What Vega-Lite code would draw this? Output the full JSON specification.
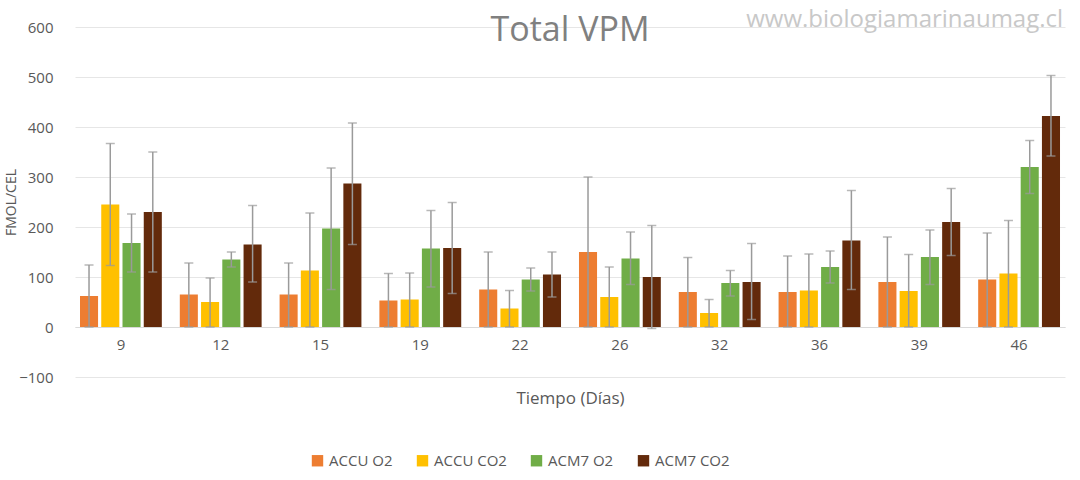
{
  "$schema": "https://vega.github.io/schema/vega-lite/v6.json",
  "width": 990,
  "height": 350,
  "autosize": "none",
  "padding": {"left": 75, "top": 27, "right": 15, "bottom": 103},
  "background": "white",
  "config": {"font": "Open Sans", "view": {"stroke": null}},
  "title": {"text": "Total VPM", "fontSize": 34, "fontWeight": "normal", "color": "#808080", "offset": -40, "anchor": "middle"},
  "data": {"values": [
    {"t": "9", "s": "ACCU O2", "v": 62, "lo": 0, "hi": 124},
    {"t": "9", "s": "ACCU CO2", "v": 245, "lo": 123, "hi": 367},
    {"t": "9", "s": "ACM7 O2", "v": 168, "lo": 110, "hi": 226},
    {"t": "9", "s": "ACM7 CO2", "v": 230, "lo": 110, "hi": 350},
    {"t": "12", "s": "ACCU O2", "v": 65, "lo": 0, "hi": 128},
    {"t": "12", "s": "ACCU CO2", "v": 50, "lo": 0, "hi": 98},
    {"t": "12", "s": "ACM7 O2", "v": 135, "lo": 120, "hi": 150},
    {"t": "12", "s": "ACM7 CO2", "v": 165, "lo": 90, "hi": 243},
    {"t": "15", "s": "ACCU O2", "v": 65, "lo": 0, "hi": 128},
    {"t": "15", "s": "ACCU CO2", "v": 113, "lo": 0, "hi": 228},
    {"t": "15", "s": "ACM7 O2", "v": 197, "lo": 75, "hi": 318},
    {"t": "15", "s": "ACM7 CO2", "v": 287, "lo": 165, "hi": 408},
    {"t": "19", "s": "ACCU O2", "v": 53, "lo": 0, "hi": 107},
    {"t": "19", "s": "ACCU CO2", "v": 55, "lo": 0, "hi": 108},
    {"t": "19", "s": "ACM7 O2", "v": 157, "lo": 80, "hi": 233},
    {"t": "19", "s": "ACM7 CO2", "v": 158, "lo": 67, "hi": 249},
    {"t": "22", "s": "ACCU O2", "v": 75, "lo": 0, "hi": 150},
    {"t": "22", "s": "ACCU CO2", "v": 37, "lo": 0, "hi": 73},
    {"t": "22", "s": "ACM7 O2", "v": 95, "lo": 72, "hi": 118},
    {"t": "22", "s": "ACM7 CO2", "v": 105, "lo": 60, "hi": 150},
    {"t": "26", "s": "ACCU O2", "v": 150, "lo": 0, "hi": 300},
    {"t": "26", "s": "ACCU CO2", "v": 60, "lo": 0, "hi": 120},
    {"t": "26", "s": "ACM7 O2", "v": 137, "lo": 85, "hi": 190},
    {"t": "26", "s": "ACM7 CO2", "v": 100, "lo": -3, "hi": 203},
    {"t": "32", "s": "ACCU O2", "v": 70, "lo": 0, "hi": 139},
    {"t": "32", "s": "ACCU CO2", "v": 28, "lo": 0, "hi": 55},
    {"t": "32", "s": "ACM7 O2", "v": 88, "lo": 62, "hi": 113},
    {"t": "32", "s": "ACM7 CO2", "v": 90, "lo": 15, "hi": 167},
    {"t": "36", "s": "ACCU O2", "v": 70, "lo": 0, "hi": 142},
    {"t": "36", "s": "ACCU CO2", "v": 73, "lo": 0, "hi": 146},
    {"t": "36", "s": "ACM7 O2", "v": 120, "lo": 88, "hi": 152},
    {"t": "36", "s": "ACM7 CO2", "v": 173, "lo": 75, "hi": 273},
    {"t": "39", "s": "ACCU O2", "v": 90, "lo": 0, "hi": 180},
    {"t": "39", "s": "ACCU CO2", "v": 72, "lo": 0, "hi": 145},
    {"t": "39", "s": "ACM7 O2", "v": 140, "lo": 85, "hi": 194},
    {"t": "39", "s": "ACM7 CO2", "v": 210, "lo": 143, "hi": 277},
    {"t": "46", "s": "ACCU O2", "v": 95, "lo": 0, "hi": 188},
    {"t": "46", "s": "ACCU CO2", "v": 107, "lo": 0, "hi": 213},
    {"t": "46", "s": "ACM7 O2", "v": 320, "lo": 267, "hi": 373},
    {"t": "46", "s": "ACM7 CO2", "v": 422, "lo": 342, "hi": 503}
  ]},
  "encoding": {
    "x": {
      "field": "t", "type": "nominal", "sort": null,
      "scale": {"paddingInner": 0.18, "paddingOuter": 0.05},
      "axis": {"title": "Tiempo (Días)", "labelAngle": 0, "offset": -50, "labelFontSize": 15, "labelColor": "#595959", "labelPadding": 10, "titleFontSize": 17, "titleFontWeight": "normal", "titleColor": "#595959", "titlePadding": 38, "ticks": false, "domainColor": "#d9d9d9"}
    },
    "xOffset": {"field": "s", "type": "nominal", "sort": ["ACCU O2", "ACCU CO2", "ACM7 O2", "ACM7 CO2"], "scale": {"paddingInner": 0.15}}
  },
  "layer": [
    {
      "mark": {"type": "bar"},
      "encoding": {
        "y": {
          "field": "v", "type": "quantitative",
          "scale": {"domain": [-100, 600], "nice": false},
          "axis": {"values": [-100, 0, 100, 200, 300, 400, 500, 600], "title": "FMOL/CEL", "titleFontSize": 14, "titleFontWeight": "normal", "titleColor": "#595959", "titleX": -57, "labelFontSize": 15, "labelColor": "#595959", "labelPadding": 22, "domain": false, "ticks": false, "gridColor": "#e6e6e6"}
        },
        "color": {
          "field": "s", "type": "nominal",
          "sort": ["ACCU O2", "ACCU CO2", "ACM7 O2", "ACM7 CO2"],
          "scale": {"domain": ["ACCU O2", "ACCU CO2", "ACM7 O2", "ACM7 CO2"], "range": ["#ED7D31", "#FFC000", "#70AD47", "#632A0B"]},
          "legend": {"orient": "none", "legendX": 235, "legendY": 426, "direction": "horizontal", "title": null, "symbolType": "square", "symbolSize": 130, "symbolStrokeWidth": 0, "labelFontSize": 15, "labelColor": "#595959", "columnPadding": 22}
        }
      }
    },
    {
      "mark": {"type": "rule", "color": "#9a9a9a", "strokeWidth": 1.5},
      "encoding": {"y": {"field": "lo", "type": "quantitative"}, "y2": {"field": "hi"}}
    },
    {
      "mark": {"type": "tick", "color": "#9a9a9a", "size": 9, "thickness": 1.5, "orient": "horizontal"},
      "encoding": {"y": {"field": "lo", "type": "quantitative"}}
    },
    {
      "mark": {"type": "tick", "color": "#9a9a9a", "size": 9, "thickness": 1.5, "orient": "horizontal"},
      "encoding": {"y": {"field": "hi", "type": "quantitative"}}
    },
    {
      "data": {"values": [{"label": "www.biologiamarinaumag.cl"}]},
      "mark": {"type": "text", "align": "right", "baseline": "middle", "fontSize": 24, "color": "#c8c8c8", "dx": 44, "clip": false},
      "encoding": {"x": {"datum": "46"}, "xOffset": null, "y": {"datum": 614}, "text": {"field": "label"}}
    }
  ]
}
